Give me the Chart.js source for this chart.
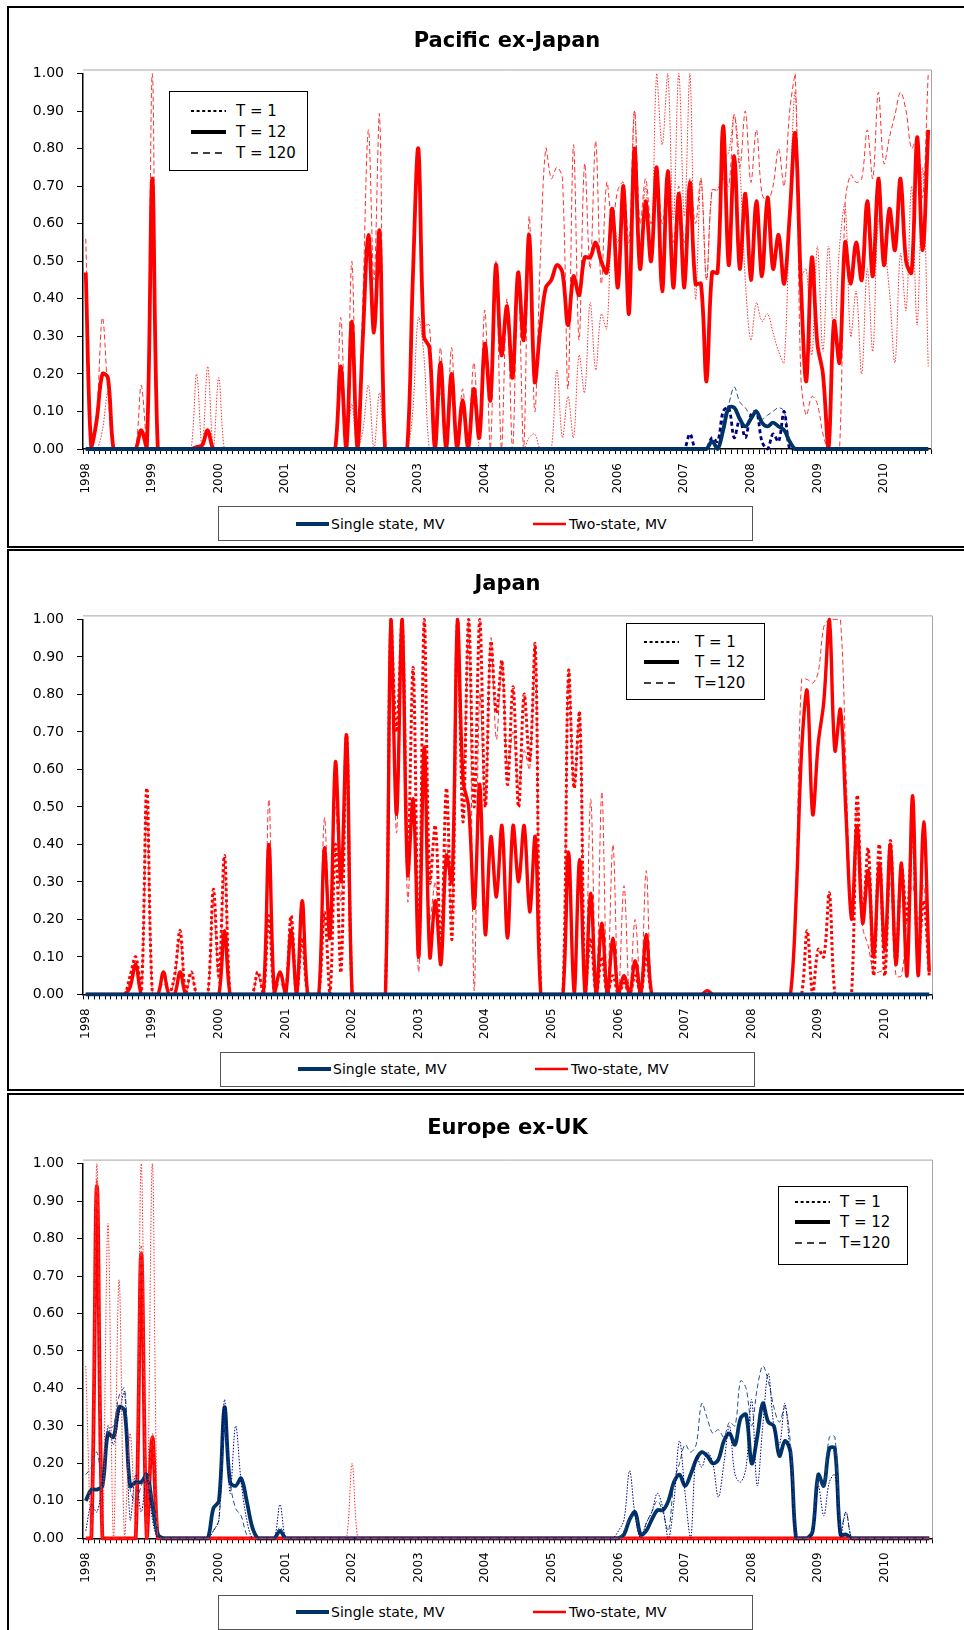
<!DOCTYPE html>
<html>
<head>
<meta charset="utf-8">
<script src="https://cdn.jsdelivr.net/npm/chart.js@4.4.1/dist/chart.umd.min.js"></script>
<style>
  html, body { margin: 0; padding: 0; background: #fff; }
  body { width: 964px; height: 1630px; overflow: hidden; position: relative; font-family: 'DejaVu Sans', sans-serif; color: #000; }
  .panel { position: absolute; left: 7px; width: 1000px; border: 2px solid #000; box-sizing: border-box; }
  .wrap { position: absolute; left: 0; width: 964px; }
  .lg, .tl { position: absolute; background: #fff; box-sizing: border-box; }
  .lg { border: 1.5px solid #555; }
  .tl { border: 1.5px solid #000; }
  .txt { position: absolute; white-space: nowrap; transform: translateY(-50%); line-height: 18px; }
  .smp { position: absolute; overflow: visible; }
</style>
</head>
<body>

<div class="panel" style="top:6px;height:542px"></div>
<div class="panel" style="top:549px;height:542px"></div>
<div class="panel" style="top:1093px;height:600px"></div>

<div class="wrap" style="top:0;height:548px"><canvas id="pac" width="964" height="548"></canvas></div>
<div class="wrap" style="top:548px;height:542px"><canvas id="jap" width="964" height="542"></canvas></div>
<div class="wrap" style="top:1090px;height:540px"><canvas id="eur" width="964" height="540"></canvas></div>

<script>
// ─── categories: monthly, Jan 1998 – Sep 2010 ───────────────────────────
const years = [1998, 1999, 2000, 2001, 2002, 2003, 2004, 2005, 2006, 2007, 2008, 2009, 2010];
const lastMonth2010 = 9;
const months = [];
years.forEach(function(y) {
  for (let m = 1; m <= 12; m++) {
    if (y === 2010 && m > lastMonth2010) break;
    months.push(y + '-' + String(m).padStart(2, '0'));
  }
});
const yTicks = [0, 0.1, 0.2, 0.3, 0.4, 0.5, 0.6, 0.7, 0.8, 0.9, 1.0];
const seriesNames = ['Single state, MV', 'Two-state, MV'];
const horizonNames = ['T = 1', 'T = 12', 'T = 120'];

// ─── Pacific ex-Japan (one row per year) ────────────────────────────────
const pacTwoT12 = [
  .47,0,.08,.20,.19,0,0,0,0,0,.05,0,
  .72,0,0,0,0,0,0,0,.005,.01,.05,0,
  0,0,0,0,0,0,0,0,0,0,0,0,
  0,0,0,0,0,0,0,0,0,0,.22,0,
  .34,0,.30,.57,.31,.58,0,0,0,0,0,.45,
  .80,.30,.27,0,.23,0,.20,0,.13,0,.16,.03,
  .28,.13,.49,.25,.38,.19,.47,.29,.57,.18,.32,.43,
  .45,.49,.47,.33,.46,.41,.51,.51,.55,.50,.47,.64,
  .43,.70,.36,.80,.48,.66,.50,.75,.42,.74,.43,.68,
  .43,.71,.44,.44,.18,.47,.47,.86,.49,.78,.48,.68,
  .45,.66,.46,.67,.48,.57,.44,.62,.84,.45,.18,.51,
  .28,.20,0,.34,.23,.55,.44,.55,.45,.66,.46,.72,
  .49,.64,.53,.72,.50,.47,.83,.53,.85
];
const pacTwoT120 = [
  .56,0,.10,.35,.15,0,0,0,0,0,.17,0,
  1.0,0,0,0,0,0,0,0,0,0,.05,0,
  0,0,0,0,0,0,0,0,0,0,0,0,
  0,0,0,0,0,0,0,0,0,0,.35,0,
  .50,0,.40,.85,.45,.89,0,0,0,0,0,.50,
  .80,.33,.33,0,.27,0,.27,0,.16,0,.23,.05,
  .37,0,.50,0,.40,0,.47,0,.62,.10,.50,.80,
  .72,.75,.72,.16,.81,.29,.76,.48,.82,.44,.71,.60,
  .69,.71,.55,.90,.60,.72,.60,.75,.60,.72,.55,.70,
  .55,.72,.60,.72,.45,.69,.69,.72,.70,.89,.75,.90,
  .71,.85,.68,.66,.70,.80,.70,.90,1.0,.20,.09,.14,
  .12,.04,0,0,0,.65,.73,.71,.72,.85,.72,.95,
  .76,.83,.89,.95,.90,.80,.83,.67,1.0
];
const pacTwoT1 = [
  0,0,0,.05,.15,0,0,0,0,0,.05,0,
  .60,0,0,0,0,0,0,0,.20,0,.22,0,
  .19,0,0,0,0,0,0,0,0,0,0,0,
  0,0,0,0,0,0,0,0,0,0,.20,0,
  .12,0,.05,.17,0,.15,0,0,0,0,0,.10,
  .35,.25,0,0,.15,0,.15,0,.10,0,.15,0,
  0,0,0,0,0,0,0,0,.03,.04,0,0,
  0,.21,.03,.14,.03,.25,.15,.39,.21,.36,.32,.64,
  .55,.68,.40,.90,.50,.70,.50,1.0,.81,1.0,.61,1.0,
  .62,1.0,.40,.72,.45,.69,.69,.77,.79,.89,.75,.45,
  .29,.39,.34,.36,.31,.26,.23,.64,.95,.46,.48,.25,
  .54,.26,.54,.29,.54,.65,.30,.42,.20,.48,.26,.61,
  .55,.42,.23,.52,.37,.70,.33,.75,.22
];
const pacSingleT12 = [
  0,0,0,0,0,0,0,0,0,0,0,0,
  0,0,0,0,0,0,0,0,0,0,0,0,
  0,0,0,0,0,0,0,0,0,0,0,0,
  0,0,0,0,0,0,0,0,0,0,0,0,
  0,0,0,0,0,0,0,0,0,0,0,0,
  0,0,0,0,0,0,0,0,0,0,0,0,
  0,0,0,0,0,0,0,0,0,0,0,0,
  0,0,0,0,0,0,0,0,0,0,0,0,
  0,0,0,0,0,0,0,0,0,0,0,0,
  0,0,0,0,0,.02,0,.05,.11,.11,.08,.06,
  .08,.10,.07,.06,.07,.06,.05,.02,0,0,0,0,
  0,0,0,0,0,0,0,0,0,0,0,0,
  0,0,0,0,0,0,0,0,0
];
const pacSingleT1 = [
  0,0,0,0,0,0,0,0,0,0,0,0,
  0,0,0,0,0,0,0,0,0,0,0,0,
  0,0,0,0,0,0,0,0,0,0,0,0,
  0,0,0,0,0,0,0,0,0,0,0,0,
  0,0,0,0,0,0,0,0,0,0,0,0,
  0,0,0,0,0,0,0,0,0,0,0,0,
  0,0,0,0,0,0,0,0,0,0,0,0,
  0,0,0,0,0,0,0,0,0,0,0,0,
  0,0,0,0,0,0,0,0,0,0,0,0,
  0,.04,0,0,0,.03,.02,.10,.11,.03,.08,.03,
  .09,.10,.02,0,.04,.02,.10,0,0,0,0,0,
  0,0,0,0,0,0,0,0,0,0,0,0,
  0,0,0,0,0,0,0,0,0
];
const pacSingleT120 = [
  0,0,0,0,0,0,0,0,0,0,0,0,
  0,0,0,0,0,0,0,0,0,0,0,0,
  0,0,0,0,0,0,0,0,0,0,0,0,
  0,0,0,0,0,0,0,0,0,0,0,0,
  0,0,0,0,0,0,0,0,0,0,0,0,
  0,0,0,0,0,0,0,0,0,0,0,0,
  0,0,0,0,0,0,0,0,0,0,0,0,
  0,0,0,0,0,0,0,0,0,0,0,0,
  0,0,0,0,0,0,0,0,0,0,0,0,
  0,0,0,0,0,0,0,.08,.12,.165,.125,.11,
  .09,.10,.08,.09,.10,.11,.10,.02,0,0,0,0,
  0,0,0,0,0,0,0,0,0,0,0,0,
  0,0,0,0,0,0,0,0,0
];

// ─── Japan ──────────────────────────────────────────────────────────────
const japTwoT12 = [
  0,0,0,0,0,0,0,0,.02,.08,0,0,
  0,0,.06,0,0,.06,0,0,0,0,0,0,
  0,.17,0,0,0,0,0,0,0,.40,0,.06,
  0,.17,0,.25,0,0,0,.39,.15,.62,.30,.69,
  0,0,0,0,0,0,0,1.0,.48,1.0,.32,.52,
  .10,.66,.10,.25,.08,.37,.30,1.0,.57,.50,.23,.56,
  .16,.42,.26,.45,.15,.45,.30,.45,.22,.42,0,0,
  0,0,0,.38,0,.36,0,.27,0,.19,0,.15,
  0,.05,0,.09,0,.16,0,0,0,0,0,0,
  0,0,0,0,.01,0,0,0,0,0,0,0,
  0,0,0,0,0,0,0,0,.25,.65,.81,.48,
  .67,.78,1.0,.65,.76,.48,.20,.45,.19,.33,.10,.35,
  .12,.40,.08,.35,.05,.53,.05,.46,.06
];
const japTwoT1 = [
  0,0,0,0,0,0,0,0,.05,.10,0,.55,
  0,0,0,0,.05,.17,0,.06,0,0,0,.28,
  .05,.37,0,0,0,0,0,.06,0,.21,0,0,
  0,.21,0,.15,0,0,0,.22,0,.40,.06,.69,
  0,0,0,0,0,0,0,1.0,.70,1.0,.35,.87,
  .10,1.0,.30,.45,.12,.55,.15,1.0,.46,1.0,.50,1.0,
  .50,.94,.75,.89,.56,.82,.50,.80,.62,.93,0,0,
  0,0,0,.86,.55,.75,0,.15,0,.10,0,.05,
  0,.03,0,.05,0,.10,0,0,0,0,0,0,
  0,0,0,0,0,0,0,0,0,0,0,0,
  0,0,0,0,0,0,0,0,0,0,.17,0,
  .12,.10,.27,0,0,0,0,.53,.20,.39,.05,.40,
  .05,.41,.08,.34,.20,.45,.10,.25,.05
];
const japTwoT120 = [
  0,0,0,0,0,0,0,0,.04,.09,0,.50,
  0,0,.03,0,.04,.15,0,.05,0,0,0,.25,
  .03,.33,0,0,0,0,0,.05,0,.52,0,.03,
  0,.20,0,.20,0,0,0,.47,.20,.50,.25,.69,
  0,0,0,0,0,0,0,1.0,.43,1.0,.25,.52,
  .06,.66,.20,.30,.10,.40,.20,1.0,.57,1.0,.01,.80,
  .50,.95,.68,.89,.60,.70,.55,.65,.60,.93,0,0,
  0,0,0,.86,.55,.75,0,.52,0,.54,0,.40,
  0,.29,0,.20,0,.33,0,0,0,0,0,0,
  0,0,0,0,0,0,0,0,0,0,0,0,
  0,0,0,0,0,0,0,0,.30,.84,.84,.83,
  .86,.98,1.0,1.0,1.0,.60,.22,.50,.18,.13,.06,.06,
  .07,.30,.05,.05,.20,.29,.20,.29,.05
];
// single state is zero for every horizon in Japan
const japSingleMV = [
  0,0,0,0,0,0,0,0,0,0,0,0,
  0,0,0,0,0,0,0,0,0,0,0,0,
  0,0,0,0,0,0,0,0,0,0,0,0,
  0,0,0,0,0,0,0,0,0,0,0,0,
  0,0,0,0,0,0,0,0,0,0,0,0,
  0,0,0,0,0,0,0,0,0,0,0,0,
  0,0,0,0,0,0,0,0,0,0,0,0,
  0,0,0,0,0,0,0,0,0,0,0,0,
  0,0,0,0,0,0,0,0,0,0,0,0,
  0,0,0,0,0,0,0,0,0,0,0,0,
  0,0,0,0,0,0,0,0,0,0,0,0,
  0,0,0,0,0,0,0,0,0,0,0,0,
  0,0,0,0,0,0,0,0,0
];

// ─── Europe ex-UK ───────────────────────────────────────────────────────
const eurTwoT12 = [
  0,0,.94,0,0,0,0,0,0,0,.76,0,
  .27,0,0,0,0,0,0,0,0,0,0,0,
  0,0,0,0,0,0,0,0,0,0,0,0,
  0,0,0,0,0,0,0,0,0,0,0,0,
  0,0,0,0,0,0,0,0,0,0,0,0,
  0,0,0,0,0,0,0,0,0,0,0,0,
  0,0,0,0,0,0,0,0,0,0,0,0,
  0,0,0,0,0,0,0,0,0,0,0,0,
  0,0,0,0,0,0,0,0,0,0,0,0,
  0,0,0,0,0,0,0,0,0,0,0,0,
  0,0,0,0,0,0,0,0,0,0,0,0,
  0,0,0,0,0,0,0,0,0,0,0,0,
  0,0,0,0,0,0,0,0,0
];
const eurTwoT1 = [
  .46,0,1.0,0,.84,0,.69,0,.28,0,1.0,0,
  1.0,0,0,0,0,0,0,0,0,0,0,0,
  0,0,0,0,0,0,0,0,0,0,0,0,
  0,0,0,0,0,0,0,0,0,0,0,0,
  .20,0,0,0,0,0,0,0,0,0,0,0,
  0,0,0,0,0,0,0,0,0,0,0,0,
  0,0,0,0,0,0,0,0,0,0,0,0,
  0,0,0,0,0,0,0,0,0,0,0,0,
  0,0,0,0,0,0,0,0,0,0,0,0,
  0,0,0,0,0,0,0,0,0,0,0,0,
  0,0,0,0,0,0,0,0,0,0,0,0,
  0,0,0,0,0,0,0,0,0,0,0,0,
  0,0,0,0,0,0,0,0,0
];
const eurTwoT120 = [
  0,0,.96,0,0,0,0,0,0,0,.78,0,
  .28,0,0,0,0,0,0,0,0,0,0,0,
  0,0,0,0,0,0,0,0,0,0,0,0,
  0,0,0,0,0,0,0,0,0,0,0,0,
  0,0,0,0,0,0,0,0,0,0,0,0,
  0,0,0,0,0,0,0,0,0,0,0,0,
  0,0,0,0,0,0,0,0,0,0,0,0,
  0,0,0,0,0,0,0,0,0,0,0,0,
  0,0,0,0,0,0,0,0,0,0,0,0,
  0,0,0,0,0,0,0,0,0,0,0,0,
  0,0,0,0,0,0,0,0,0,0,0,0,
  0,0,0,0,0,0,0,0,0,0,0,0,
  0,0,0,0,0,0,0,0,0
];
const eurSingleT12 = [
  .10,.13,.13,.14,.28,.27,.35,.34,.14,.15,.15,.17,
  .09,.01,0,0,0,0,0,0,0,0,0,.08,
  .10,.35,.15,.14,.16,.10,.03,0,0,0,0,.02,
  0,0,0,0,0,0,0,0,0,0,0,0,
  0,0,0,0,0,0,0,0,0,0,0,0,
  0,0,0,0,0,0,0,0,0,0,0,0,
  0,0,0,0,0,0,0,0,0,0,0,0,
  0,0,0,0,0,0,0,0,0,0,0,0,
  0,.01,.05,.07,.01,.02,.05,.075,.075,.10,.15,.17,
  .14,.17,.21,.23,.22,.20,.21,.26,.28,.25,.32,.33,
  .20,.27,.36,.31,.30,.22,.26,.23,0,0,0,.02,
  .17,.14,.24,.24,.01,.01,0,0,0,0,0,0,
  0,0,0,0,0,0,0,0,0
];
const eurSingleT1 = [
  .02,.09,.07,.15,.30,.25,.33,.39,.05,.17,.07,.17,
  .05,0,0,0,0,0,0,0,0,0,0,.02,
  .05,.37,.12,.30,.15,.05,0,0,0,0,0,.09,
  0,0,0,0,0,0,0,0,0,0,0,0,
  0,0,0,0,0,0,0,0,0,0,0,0,
  0,0,0,0,0,0,0,0,0,0,0,0,
  0,0,0,0,0,0,0,0,0,0,0,0,
  0,0,0,0,0,0,0,0,0,0,0,0,
  .02,.05,.18,.06,0,.04,.07,.12,.08,0,.10,.26,
  .12,0,.22,.19,.23,.20,.11,.20,.30,.17,.15,.19,
  .37,.14,.30,.44,.30,.25,.36,.20,0,0,0,.01,
  .14,.06,.15,.17,0,.07,0,0,0,0,0,0,
  0,0,0,0,0,0,0,0,0
];
const eurSingleT120 = [
  .17,.19,.23,.15,.29,.30,.38,.40,.13,.10,.14,.17,
  .10,0,0,0,0,0,0,0,0,0,0,.02,
  .05,.30,.15,.08,.06,.01,0,0,0,0,0,.03,
  0,0,0,0,0,0,0,0,0,0,0,0,
  0,0,0,0,0,0,0,0,0,0,0,0,
  0,0,0,0,0,0,0,0,0,0,0,0,
  0,0,0,0,0,0,0,0,0,0,0,0,
  0,0,0,0,0,0,0,0,0,0,0,0,
  0,.02,.05,.06,0,.04,.07,.10,.07,.02,.15,.20,
  .25,.23,.25,.36,.32,.28,.29,.27,.31,.30,.42,.40,
  .30,.40,.46,.42,.35,.31,.35,.25,0,0,0,.02,
  .16,.14,.27,.27,.02,.07,0,0,0,0,0,0,
  0,0,0,0,0,0,0,0,0
];

// ─── styles ─────────────────────────────────────────────────────────────
const RED = '#ff0000';
const RED_THIN = '#ff3030';
const NAVY = '#003366';
const NAVY_DOT = '#000080';
const NAVY_DASH = '#24508a';
const DOT = [1.5, 1.5];
const DASH = [5, 3];
const THICK = 3.8;

Chart.defaults.font.family = "'DejaVu Sans', sans-serif";
Chart.defaults.color = '#000';

function line(label, data, color, width, dash, order) {
  return {
    label: label, data: data,
    borderColor: color, backgroundColor: color,
    borderWidth: width, borderDash: dash || [],
    pointRadius: 0, tension: 0.35, fill: false, order: order,
    borderJoinStyle: 'round',
    clip: { left: 2, top: 4, right: 2, bottom: 3 },
  };
}

// gray plot-area frame (top + right), as in the spreadsheet original
const plotFrame = {
  id: 'plotFrame',
  beforeDatasetsDraw: function(chart) {
    const a = chart.chartArea, ctx = chart.ctx;
    ctx.save();
    ctx.strokeStyle = '#a6a6a6';
    ctx.lineWidth = 1;
    ctx.beginPath();
    ctx.moveTo(a.left, a.top - 3.5);
    ctx.lineTo(a.right + 0.5, a.top - 3.5);
    ctx.lineTo(a.right + 0.5, a.bottom);
    ctx.stroke();
    ctx.restore();
  }
};

function makeChart(spec) {
  const titleLine = 21 * 1.2;
  const padTop = spec.titleY - titleLine / 2;
  const xAxisHeight = 50;
  return new Chart(document.getElementById(spec.canvas), {
    type: 'line',
    data: { labels: months, datasets: spec.datasets },
    options: {
      responsive: false,
      animation: false,
      events: [],
      layout: { padding: { left: 8, right: spec.right, top: 0, bottom: spec.height - spec.areaBottom - xAxisHeight } },
      plugins: {
        legend: { display: false },
        tooltip: { enabled: false },
        title: {
          display: true, text: spec.title, fullSize: false, color: '#000',
          font: { size: 21, weight: 'bold' },
          padding: { top: padTop, bottom: spec.areaTop - padTop - titleLine },
        },
      },
      scales: {
        x: {
          type: 'category', offset: true,
          afterFit: function(s) { s.height = xAxisHeight; },
          grid: { drawOnChartArea: false, drawTicks: true, tickLength: 5, color: '#000', offset: true },
          border: { color: '#000', width: 1.5 },
          ticks: {
            autoSkip: false, minRotation: 90, maxRotation: 90, padding: 9,
            font: { size: 12 }, color: '#000',
            callback: function(v, i) { return months[i].endsWith('-01') ? months[i].slice(0, 4) : ''; },
          },
        },
        y: {
          min: 0, max: 1,
          afterFit: function(s) { s.width = 75; },
          afterBuildTicks: function(s) { s.ticks = yTicks.map(function(v) { return { value: v }; }); },
          grid: { drawOnChartArea: false, tickLength: 6, color: '#000' },
          border: { color: '#000', width: 1.5 },
          ticks: { padding: 13, font: { size: 14 }, color: '#000', callback: function(v) { return Number(v).toFixed(2); } },
        },
      },
    },
    plugins: [plotFrame],
  });
}

const specs = [
  {
    canvas: 'pac', title: 'Pacific ex-Japan', height: 548, areaTop: 73.5, areaBottom: 449, titleY: 41.2, right: 33,
    datasets: [
      line(seriesNames[0], pacSingleT12, NAVY, THICK, null, 0),
      line(seriesNames[0] + ' ' + horizonNames[0], pacSingleT1, NAVY_DOT, 2.8, [4, 3], 1),
      line(seriesNames[0] + ' ' + horizonNames[2], pacSingleT120, NAVY_DASH, 1, DASH, 2),
      line(seriesNames[1], pacTwoT12, RED, THICK, null, 3),
      line(seriesNames[1] + ' ' + horizonNames[2], pacTwoT120, RED_THIN, 1, DASH, 4),
      line(seriesNames[1] + ' ' + horizonNames[0], pacTwoT1, RED_THIN, 1, DOT, 5),
    ],
  },
  {
    canvas: 'jap', title: 'Japan', height: 542, areaTop: 71.4, areaBottom: 446.4, titleY: 37, right: 32,
    datasets: [
      line(seriesNames[0], japSingleMV, NAVY, THICK, null, 0),
      line(seriesNames[0] + ' ' + horizonNames[0], japSingleMV, NAVY_DOT, 1, DOT, 1),
      line(seriesNames[0] + ' ' + horizonNames[2], japSingleMV, NAVY_DASH, 1, DASH, 2),
      line(seriesNames[1], japTwoT12, RED, 3.4, null, 3),
      line(seriesNames[1] + ' ' + horizonNames[0], japTwoT1, RED, 3, [3, 2.5], 4),
      line(seriesNames[1] + ' ' + horizonNames[2], japTwoT120, RED_THIN, 1, DASH, 5),
    ],
  },
  {
    canvas: 'eur', title: 'Europe ex-UK', height: 540, areaTop: 73.6, areaBottom: 448.3, titleY: 38.4, right: 32,
    datasets: [
      line(seriesNames[1] + ' ' + horizonNames[0], eurTwoT1, RED_THIN, 1, DOT, 0),
      line(seriesNames[1] + ' ' + horizonNames[2], eurTwoT120, RED_THIN, 1, DASH, 1),
      line(seriesNames[0] + ' ' + horizonNames[0], eurSingleT1, NAVY_DOT, 1, DOT, 2),
      line(seriesNames[0] + ' ' + horizonNames[2], eurSingleT120, NAVY_DASH, 1, DASH, 3),
      line(seriesNames[0], eurSingleT12, NAVY, THICK, null, 4),
      line(seriesNames[1], eurTwoT12, RED, THICK, null, 5),
    ],
  },
];
specs.forEach(makeChart);

// ─── legends (HTML overlays) ────────────────────────────────────────────
function sample(x, y, w, color, width, dash) {
  return '<svg class="smp" width="' + w + '" height="10" style="left:' + x + 'px;top:' + (y - 5) + 'px">' +
    '<line x1="0" y1="5" x2="' + w + '" y2="5" stroke="' + color + '" stroke-width="' + width + '"' +
    (dash ? ' stroke-dasharray="' + dash + '"' : '') + '/></svg>';
}
function addBox(cls, box, html) {
  const d = document.createElement('div');
  d.className = cls;
  d.style.left = box.left + 'px'; d.style.top = box.top + 'px';
  d.style.width = box.width + 'px'; d.style.height = box.height + 'px';
  d.innerHTML = html;
  document.body.appendChild(d);
}
function seriesLegend(left, top) {
  const y = 16.8;
  addBox('lg', { left: left, top: top, width: 535, height: 35 },
    sample(77, y, 33, NAVY, 4) +
    '<span class="txt" style="left:112px;top:' + y + 'px;font-size:14px">' + seriesNames[0] + '</span>' +
    sample(314, y, 33, RED, 2.5) +
    '<span class="txt" style="left:350px;top:' + y + 'px;font-size:14px">' + seriesNames[1] + '</span>');
}
function horizonLegend(box, sx, tx, rows, texts) {
  const styles = [[2.2, '3,2.6'], [4, null], [1.5, '7,5']];
  let html = '';
  rows.forEach(function(ry, k) {
    html += sample(sx, ry, 35, '#000', styles[k][0], styles[k][1]);
    html += '<span class="txt" style="left:' + tx + 'px;top:' + ry + 'px;font-size:15px">' + texts[k] + '</span>';
  });
  addBox('tl', box, html);
}

seriesLegend(218, 506);
seriesLegend(220, 1051.5);
seriesLegend(218, 1594.6);

horizonLegend({ left: 169, top: 90.6, width: 139, height: 80.4 }, 21, 66, [19.3, 40.2, 61.5], horizonNames);
horizonLegend({ left: 626, top: 623.4, width: 139, height: 77 }, 17, 68, [17.8, 37.8, 58.6], ['T = 1', 'T = 12', 'T=120']);
horizonLegend({ left: 778, top: 1186, width: 130, height: 78.6 }, 16, 61, [15, 35, 55.6], ['T = 1', 'T = 12', 'T=120']);
</script>
</body>
</html>
